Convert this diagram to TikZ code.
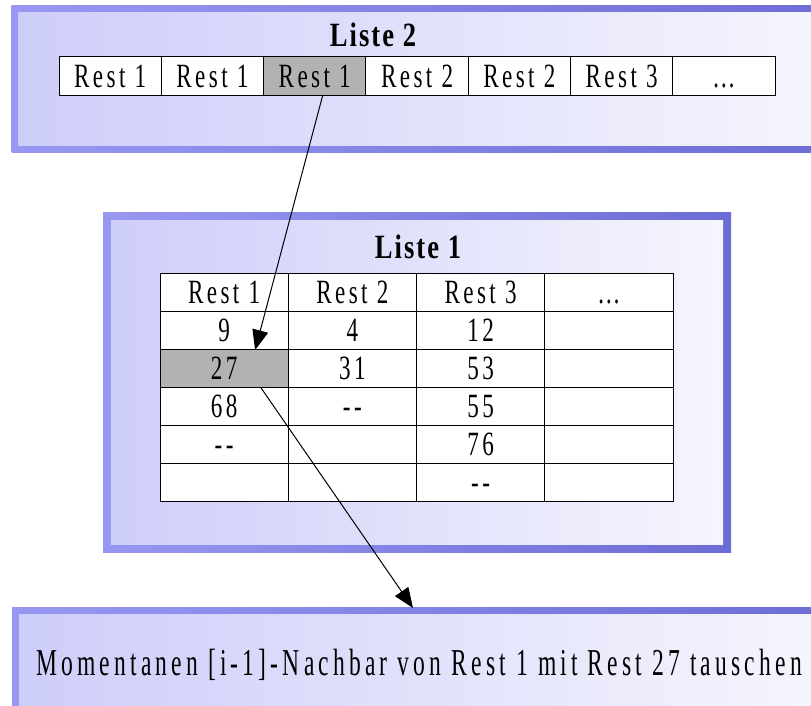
\documentclass[tikz,border=0pt]{standalone}
\usepackage{fontspec}
\setmainfont{Liberation Serif}
\newfontfamily\cellfont[FakeStretch=0.68,LetterSpace=10]{Liberation Serif}
\newfontfamily\headfont[FakeStretch=0.78,LetterSpace=6]{Liberation Serif}
\newfontfamily\msgfont[FakeStretch=0.62,LetterSpace=11]{Liberation Serif}
\usetikzlibrary{arrows.meta}

\definecolor{frameL}{RGB}{152,152,242}
\definecolor{frameR}{RGB}{108,108,214}
\definecolor{fillL}{RGB}{205,205,250}
\definecolor{fillR}{RGB}{246,246,253}
\definecolor{cellgray}{RGB}{178,178,178}

\tikzset{
  panel/.style={inner sep=0pt, outer sep=0pt, left color=frameL, right color=frameR,
    path picture={\shade[left color=fillL, right color=fillR]
      ([shift={(#1,#1)}]path picture bounding box.north west) rectangle
      ([shift={(-#1,-#1)}]path picture bounding box.south east);}},
  panel/.default=7,
  cell/.style={draw, line width=0.5pt, fill=white, inner sep=0pt, outer sep=0pt,
    text height=11pt, text depth=0pt, font=\cellfont\fontsize{17}{20}\selectfont},
  title/.style={anchor=base, font=\headfont\bfseries\fontsize{17}{20}\selectfont},
  link/.style={-{Triangle[length=10pt,width=8pt]}, line width=0.5pt},
  sel2-3/.style={fill=cellgray},
  sel1-3-1/.style={fill=cellgray},
}

\begin{document}
\begin{tikzpicture}[x=0.5pt, y=-0.5pt]
\useasboundingbox (0,0) rectangle (811,706);

% the three panels
\node[panel, minimum width=414pt, minimum height=73.5pt] (box2) at (425.5,79.5) {};
\node[panel=8, minimum width=314pt, minimum height=170pt] (box1) at (417,383) {};
\node[panel, minimum width=414pt, minimum height=66pt] (msgbox) at (426,674) {};

% Liste 2: one row
\node[title] (t2) at (373,47) {Liste 2};
\foreach \txt [count=\i] in {Rest 1,Rest 1,Rest 1,Rest 2,Rest 2,Rest 3,\ldots}
  \node[cell, minimum width=51.15pt, minimum height=19.5pt, sel2-\i/.try]
    (l2-\i) at ({59+102.3*(\i-0.5)},76.5) {\txt};

% Liste 1: table, one column per Rest
\node[title] (t1) at (418,259) {Liste 1};
\foreach \row [count=\r] in {{Rest 1,Rest 2,Rest 3,\ldots},{9,4,12,{}},{27,31,53,{}},
    {68,{-}{-},55,{}},{{-}{-},{},76,{}},{{},{},{-}{-},{}}}
  \foreach \txt [count=\c] in \row
    \node[cell, minimum width=64.125pt, minimum height=19pt, sel1-\r-\c/.try]
      (l1-\r-\c) at ({160+128.25*(\c-0.5)},{274+38*(\r-0.5)}) {\txt};

% message
\node[anchor=base, font=\msgfont\fontsize{19}{23}\selectfont] (msg) at (419,676)
  {Momentanen [i-1]-Nachbar von Rest 1 mit Rest 27 tauschen};

\draw[link] ([xshift=3.9pt]l2-3.south) -- ([xshift=15.5pt]l1-3-1.north);
\draw[link] ([xshift=18.5pt]l1-3-1.south) -- ([xshift=-6.5pt]msgbox.north);
\end{tikzpicture}
\end{document}
